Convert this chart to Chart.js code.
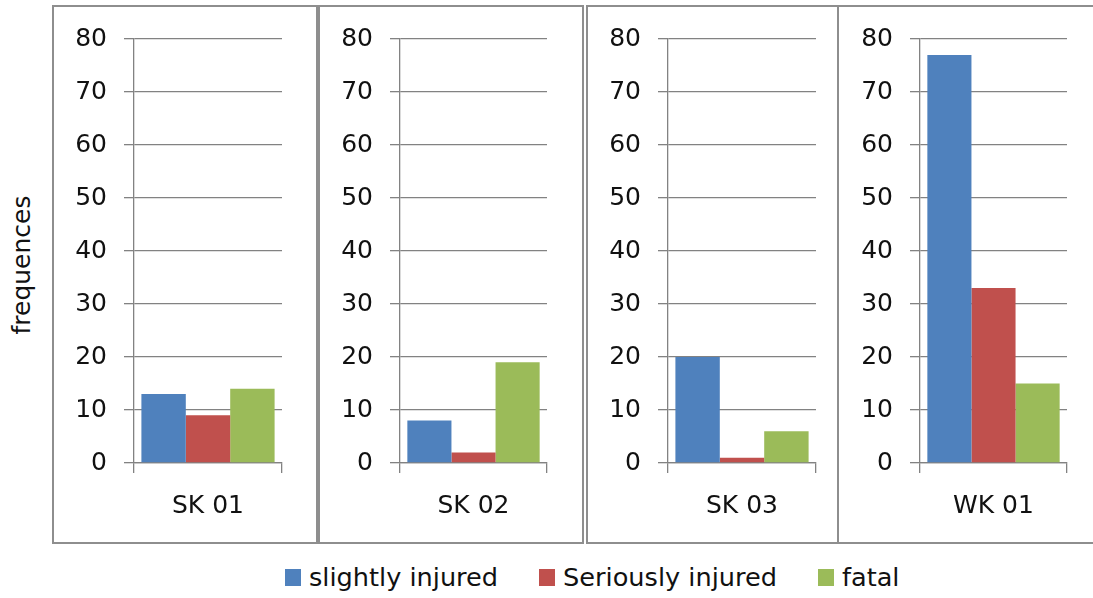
<!DOCTYPE html>
<html>
<head>
<meta charset="utf-8">
<script src="https://cdn.jsdelivr.net/npm/chart.js@4/dist/chart.umd.min.js"></script>
<style>
  body { margin: 0; background: #fff; font-family: 'DejaVu Sans', sans-serif; color: #111; }
  #page { position: relative; width: 1093px; height: 598px; overflow: hidden; }
  .panel { position: absolute; top: 5px; height: 539px; border: 2px solid #8e8e8e; box-sizing: border-box; }
  .panel canvas { position: absolute; left: 0; top: 0; }
  #p1 { left: 52px; width: 266px; }
  #p2 { left: 318px; width: 266px; }
  #p3 { left: 586px; width: 253px; }
  #p4 { left: 837px; width: 258px; border-right: none; }
  #ytitle { position: absolute; left: 21px; top: 265px; font-size: 25px; white-space: nowrap;
            transform: translate(-50%, -50%) rotate(-90deg); }
  #legend { position: absolute; left: 285px; top: 562px; display: flex; align-items: center; gap: 41px; font-size: 25.6px; }
  #legend .item { display: flex; align-items: center; }
  #legend .box { width: 16px; height: 17px; margin-right: 8px; }
</style>
</head>
<body>
<div id="page">
  <div id="ytitle">frequences</div>
  <div class="panel" id="p1"><canvas id="c1"></canvas></div>
  <div class="panel" id="p2"><canvas id="c2"></canvas></div>
  <div class="panel" id="p3"><canvas id="c3"></canvas></div>
  <div class="panel" id="p4"><canvas id="c4"></canvas></div>
  <div id="legend"></div>
</div>
<script>
// sites, one panel each
const sites = ['SK 01', 'SK 02', 'SK 03', 'WK 01']
// injury categories
const seriesNames = ['slightly injured', 'Seriously injured', 'fatal']
const seriesColors = ['#4f81bd', '#c0504d', '#9bbb59']
// counts per site
const slightlyInjured = [13, 8, 20, 77]
const seriouslyInjured = [9, 2, 1, 33]
const fatal = [14, 19, 6, 15]
const yTicks = [0, 10, 20, 30, 40, 50, 60, 70, 80]

const seriesValues = [slightlyInjured, seriouslyInjured, fatal]

Chart.defaults.font.family = "'DejaVu Sans', sans-serif"
Chart.defaults.font.size = 25
Chart.defaults.color = '#111'

const gridColor = '#828282'

// canvas width, y axis width, right padding for each panel
const panelLayout = [
    { w: 262, yw: 80, right: 34 },
    { w: 262, yw: 80, right: 35 },
    { w: 249, yw: 80, right: 21 },
    { w: 253, yw: 81, right: 25 }
]

sites.forEach((site, i) => {
    const canvas = document.getElementById('c' + (i + 1))
    const lay = panelLayout[i]
    canvas.width = lay.w
    canvas.height = 535
    canvas.style.width = lay.w + 'px'
    canvas.style.height = '535px'

    new Chart(canvas, {
        type: 'bar',
        data: {
            labels: [site],
            datasets: seriesNames.map((name, s) => ({
                label: name,
                data: [seriesValues[s][i]],
                backgroundColor: seriesColors[s],
                borderWidth: 0,
                categoryPercentage: 0.9,
                barPercentage: 1.0
            }))
        },
        options: {
            responsive: false,
            animation: false,
            layout: { padding: { top: 32, right: lay.right, left: 0, bottom: 0 } },
            plugins: { legend: { display: false }, tooltip: { enabled: false } },
            scales: {
                x: {
                    offset: true,
                    grid: { display: true, drawOnChartArea: false, drawTicks: true, tickLength: 10, color: gridColor, lineWidth: 1.3, offset: true },
                    border: { display: true, color: gridColor, width: 1.3 },
                    ticks: { padding: 18 },
                    afterFit: (scale) => { scale.height = 79 }
                },
                y: {
                    min: 0,
                    max: 80,
                    afterBuildTicks: (scale) => { scale.ticks = yTicks.map(v => ({ value: v })) },
                    grid: { color: gridColor, lineWidth: 1.3, tickLength: 10 },
                    border: { display: true, color: gridColor, width: 1.3 },
                    ticks: { padding: 17 },
                    afterFit: (scale) => { scale.width = lay.yw }
                }
            }
        }
    })
})

// legend under the panels
const legend = document.getElementById('legend')
seriesNames.forEach((name, s) => {
    const item = document.createElement('div')
    item.className = 'item'
    const box = document.createElement('span')
    box.className = 'box'
    box.style.background = seriesColors[s]
    const text = document.createElement('span')
    text.textContent = name
    item.appendChild(box)
    item.appendChild(text)
    legend.appendChild(item)
})
</script>
</body>
</html>
